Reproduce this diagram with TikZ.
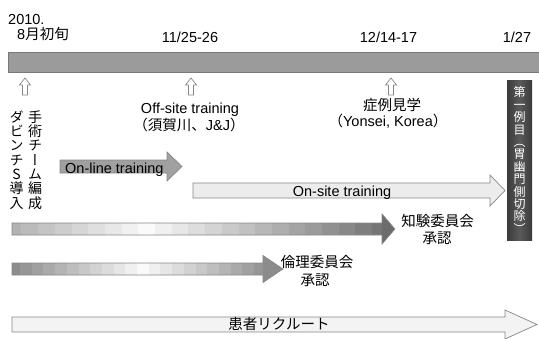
\documentclass[tikz,border=0pt]{standalone}
\usepackage{fontspec}
\setmainfont{Liberation Sans}
\newfontfamily\jp{Noto Sans CJK JP}
\newfontfamily\jpv[RawFeature=+vert]{Noto Sans CJK JP}
\definecolor{barfill}{RGB}{155,155,155}
\definecolor{bardraw}{RGB}{120,120,120}
\definecolor{arrdraw}{RGB}{135,135,135}
\definecolor{onlinefill}{RGB}{160,160,160}
\definecolor{lightfill}{RGB}{236,236,236}
\definecolor{paleFill}{RGB}{243,243,243}
\definecolor{headA}{RGB}{108,108,108}
\definecolor{headB}{RGB}{140,140,140}
\definecolor{boxdark}{RGB}{58,58,58}
\definecolor{boxmid}{RGB}{90,90,90}
\newcommand\blockarrow[7][]{%
  \path[#1] (#2,#5) -- (#3,#5) -- (#3,{#5-#7}) -- (#4,{(#5+#6)/2}) -- (#3,{#6+#7}) -- (#3,#6) -- (#2,#6) -- cycle;}
\newcommand\tickarrow[1]{%
  \path[uparr] ({#1-2.5},95) -- ({#1-2.5},85) -- ({#1-5.5},85) -- (#1,78) -- ({#1+5.5},85) -- ({#1+2.5},85) -- ({#1+2.5},95) -- cycle;}
% stepped grey strips: #1 x0, #2 strip width, #3 index of white strip, #4 left step, #5 right step, #6 last index
\newcommand\stripfill[6]{%
  \foreach \i in {0,...,#6} {%
    \pgfmathtruncatemacro\lev{\i<#3 ? 250-(#3-\i)*#4 : 250-(\i-#3)*#5}%
    \fill[fill={rgb,255:red,\lev;green,\lev;blue,\lev}] ({#1+\i*#2},200) rectangle ({#1+(\i+1)*#2+0.4},300);
  }}
\tikzset{
  lbl/.style={inner sep=0pt, font=\fontsize{14.5}{16}\selectfont, anchor=base},
  vcol/.style={inner sep=0pt, align=center, font=\jpv\fontsize{14}{14.3}\selectfont},
  uparr/.style={draw=arrdraw, fill=white, line width=0.7pt, line join=miter},
  barstyle/.style={draw=bardraw, fill=barfill, line width=0.8pt},
  onlinestyle/.style={draw=arrdraw, fill=onlinefill, line width=0.7pt},
  lightstyle/.style={draw=arrdraw, fill=lightfill, line width=0.7pt},
  palestyle/.style={draw=arrdraw, fill=paleFill, line width=0.7pt},
  gradline/.style={draw=arrdraw, line width=0.6pt},
  firstbox/.style={inner sep=0pt, minimum width=25pt, minimum height=160pt, left color=boxdark, right color=boxdark, middle color=boxmid, draw=none, text=white, align=center, font=\jpv\fontsize{12}{12.4}\selectfont}
}
\begin{document}
\begin{tikzpicture}[x=1pt,y=-1pt]
\useasboundingbox (0,0) rectangle (539,338);
% timeline bar
\path[barstyle] (8,52) rectangle (541,72);
% date labels
\node[lbl, anchor=base west] (y2010) at (8,24.5) {2010.};
\node[lbl, anchor=base west] (aug) at (17,39) {8\jp 月初旬};
\node[lbl] (d1) at (190,42) {11/25-26};
\node[lbl] (d2) at (388.5,42) {12/14-17};
\node[lbl] (d3) at (517,42) {1/27};
% small up arrows
\tickarrow{25}
\tickarrow{191}
\tickarrow{391}
% vertical columns
\node[vcol] (davinci) at (16.5,160) {ダ\\ビ\\ン\\チ\\S\\導\\入};
\node[vcol] (team) at (35,160) {手\\術\\チ\\ー\\ム\\編\\成};
% event labels
\node[lbl] (offsite) at (190,113.5) {Off-site training};
\node[lbl] (offsite2) at (189,130.5) {{\jp （須賀川、}J\&J{\jp ）}};
\node[lbl] (visit) at (392,110.5) {\jp 症例見学};
\node[lbl] (visit2) at (388,126) {{\jp （}Yonsei, Korea{\jp ）}};
% on-line training arrow
\blockarrow[onlinestyle]{60}{167}{182}{160}{173}{8}
\node[lbl, anchor=base west] (online) at (65,173) {On-line training};
% on-site training arrow
\blockarrow[lightstyle]{193}{490}{505}{183}{198}{8}
\node[lbl] (onsite) at (342,196) {On-site training};
% gradient arrow 1
\begin{scope}
  \blockarrow[clip]{12}{382}{395}{223}{235}{9}
  \stripfill{4.7}{16.7}{8}{9}{9.5}{22}
  \fill[headA] (382,200) rectangle (400,260);
\end{scope}
\blockarrow[gradline]{12}{382}{395}{223}{235}{9}
\node[lbl] (irb1) at (437.5,226) {\jp 知験委員会};
\node[lbl] (irb1b) at (437,243) {\jp 承認};
% gradient arrow 2
\begin{scope}
  \blockarrow[clip]{12}{263}{283}{263}{275}{7.5}
  \stripfill{8.3}{11.7}{11}{10}{10}{21}
  \fill[headB] (263,240) rectangle (290,300);
\end{scope}
\blockarrow[gradline]{12}{263}{283}{263}{275}{7.5}
\node[lbl] (eth) at (317,267) {\jp 倫理委員会};
\node[lbl] (ethb) at (315,285.5) {\jp 承認};
% patient recruitment arrow
\blockarrow[palestyle]{12}{505}{537}{317}{332}{7}
\node[lbl] (recruit) at (279,329) {\jp 患者リクルート};
% first case box
\node[firstbox] (first) at (519.5,160) {第\\一\\例\\目\\（\\胃\\幽\\門\\側\\切\\除\\）};
\end{tikzpicture}
\end{document}
